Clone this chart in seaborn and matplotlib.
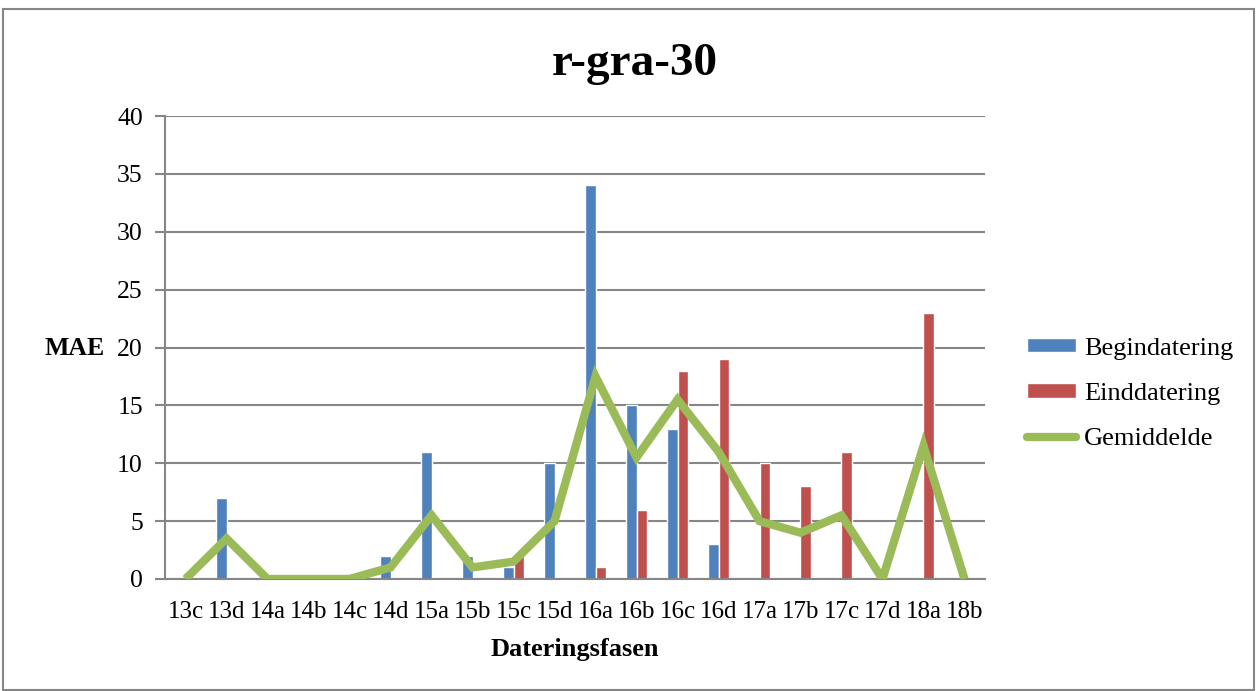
import numpy as np
import pandas as pd
import matplotlib
matplotlib.use("Agg")
import matplotlib.pyplot as plt
import seaborn as sns
from matplotlib.patches import Patch, Rectangle
from matplotlib.lines import Line2D

categories = ["13c", "13d", "14a", "14b", "14c", "14d", "15a", "15b", "15c", "15d",
              "16a", "16b", "16c", "16d", "17a", "17b", "17c", "17d", "18a", "18b"]
begindatering = [0, 7, 0, 0, 0, 2, 11, 2, 1, 10, 34, 15, 13, 3, 0, 0, 0, 0, 0, 0]
einddatering = [0, 0, 0, 0, 0, 0, 0, 0, 2, 0, 1, 6, 18, 19, 10, 8, 11, 0, 23, 0]
gemiddelde = [0, 3.5, 0, 0, 0, 1, 5.5, 1, 1.5, 5, 17.5, 10.5, 15.5, 11, 5, 4, 5.5, 0, 11.5, 0]
series_names = ["Begindatering", "Einddatering", "Gemiddelde"]
yticks = [0, 5, 10, 15, 20, 25, 30, 35, 40]

BLUE = "#4F81BD"
RED = "#C0504D"
GREEN = "#9BBB59"
GRID = "#868686"

sns.set_theme(style="white")
plt.rcParams['font.family'] = ['Liberation Serif', 'DejaVu Serif']
plt.rcParams['text.color'] = 'black'

df = pd.DataFrame({
    "fase": categories * 2,
    "MAE": begindatering + einddatering,
    "serie": [series_names[0]] * len(categories) + [series_names[1]] * len(categories),
})

fig = plt.figure(figsize=(12.57, 6.91), dpi=100)
ax = fig.add_axes([0.1313, 0.1621, 0.6523, 0.67])

sns.barplot(data=df, x="fase", y="MAE", hue="serie", order=categories,
            hue_order=series_names[:2], palette=[BLUE, RED], width=0.5, saturation=1,
            edgecolor="white", linewidth=1.0, ax=ax, legend=False, zorder=3)

sns.lineplot(x=np.arange(len(categories)), y=gemiddelde, color=GREEN, lw=6,
             ax=ax, zorder=6, solid_joinstyle="miter", solid_capstyle="butt")

ax.set_xlim(-0.5, len(categories) - 0.5)
ax.set_ylim(0, 40)
ax.set_yticks(yticks)
ax.yaxis.grid(True, color=GRID, lw=1.5, zorder=0)
ax.set_axisbelow(True)
for s in ["top", "right"]:
    ax.spines[s].set_visible(False)
for s in ["left", "bottom"]:
    ax.spines[s].set_color(GRID)
    ax.spines[s].set_linewidth(1.5)
    ax.spines[s].set_zorder(5)

ax.set_xticks(np.arange(len(categories)))
ax.set_xticklabels(categories)
ax.set_xticks(np.arange(len(categories) + 1) - 0.5, minor=True)
ax.tick_params(axis="x", which="major", length=0, labelsize=18, pad=16, labelcolor="black")
ax.tick_params(axis="x", which="minor", length=6, width=1.5, color=GRID, direction="out")
ax.tick_params(axis="y", which="major", length=7, width=1.5, color=GRID, labelsize=18.5,
               left=True, direction="out", pad=9, labelcolor="black")

ax.set_xlabel("Dateringsfasen", fontsize=19, fontweight="bold", labelpad=11, color="black")
ax.set_ylabel("")
fig.text(0.059, 0.496, "MAE", fontsize=18.5, fontweight="bold", ha="center", va="center")

fig.text(0.505, 0.907, "r-gra-30", fontsize=34, fontweight="bold", ha="center", va="center")

handles = [Patch(facecolor=BLUE, edgecolor="white"),
           Patch(facecolor=RED, edgecolor="white"),
           Line2D([0], [0], color=GREEN, lw=6, solid_capstyle="round")]
fig.legend(handles, series_names, loc="center left", bbox_to_anchor=(0.809, 0.430),
           frameon=False, fontsize=19, handlelength=1.85, handleheight=0.45,
           handletextpad=0.3, labelspacing=0.88, borderaxespad=0)

fig.patches.append(Rectangle((0.002, 0.002), 0.996, 0.985, transform=fig.transFigure,
                             fill=False, edgecolor=GRID, lw=1.5))

fig.savefig("out.png", dpi=100)
